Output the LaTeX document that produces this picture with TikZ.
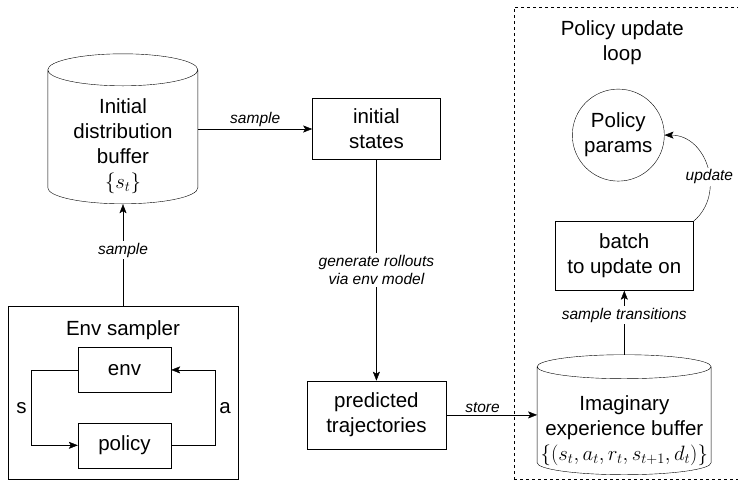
\documentclass[tikz,border=0pt]{standalone}
\usepackage{fontspec}
\setmainfont{Liberation Sans}
\usetikzlibrary{arrows.meta,positioning}
\tikzset{
    >={Stealth[length=9pt,width=7pt,inset=2pt]},
    font=\fontsize{20.5pt}{25pt}\selectfont,
    line width=0.9pt,
    plain box/.style={rectangle,draw,align=center,inner sep=0pt},
    buffer store/.style={rectangle,inner sep=0pt},
    params world/.style={circle,draw,align=center,inner sep=0pt,minimum size=92pt},
    loop frame/.style={rectangle,draw,dash pattern=on 3pt off 3pt,line width=0.8pt},
    plain text/.style={align=center,inner sep=0pt},
    edge label/.style={font=\fontsize{15.5pt}{18.5pt}\selectfont\itshape,align=center,inner sep=2pt},
    cut label/.style={edge label,fill=white}
}
% outline of a buffer node: node, x radius, y radius, wall height
\newcommand{\bufferwall}[4]{
    \draw ([yshift=-#3]#1.north west) -- ++(0,-#4)
        arc[start angle=180, end angle=360, x radius=#2, y radius=#3]
        -- ++(0,#4)
        arc[start angle=0, end angle=180, x radius=#2, y radius=#3]
        arc[start angle=180, end angle=360, x radius=#2, y radius=#3];
}
\begin{document}
\begin{tikzpicture}[x=1pt,y=1pt]
    \useasboundingbox (0,0) rectangle (738,-491);
    % left column
    \node[buffer store, minimum width=150pt, minimum height=150pt] (init) at (123,-129) {};
    \bufferwall{init}{75pt}{16pt}{118pt}
    \node[plain text] (inittext) at ([yshift=-17pt]init.center) {Initial\\distribution\\buffer\\$\{s_t\}$};
    \node[plain box, minimum width=230pt, minimum height=173pt] (sampler) [below = 102pt of init] {};
    \node[plain text] (samplertitle) [below = 14pt of sampler.north] {Env sampler};
    \node[plain box, minimum width=93pt, minimum height=45pt] (env) [below = 41pt of sampler.north, xshift=1.5pt] {env};
    \node[plain box, minimum width=93pt, minimum height=45pt] (policy) [below = 30pt of env] {policy};
    % middle column
    \node[plain box, minimum width=128pt, minimum height=61pt] (states) [right = 114pt of init] {initial\\states};
    \node[plain box, minimum width=139pt, minimum height=68pt] (pred) [below = 221pt of states] {predicted\\trajectories};
    % policy update loop
    \node[buffer store, minimum width=174pt, minimum height=120pt] (imag) [right = 91pt of pred] {};
    \bufferwall{imag}{87pt}{12pt}{96pt}
    \node[plain text] (imagtext) at ([yshift=-16pt]imag.center) {Imaginary\\experience buffer\\$\{(s_t,a_t,r_t,s_{t+1},d_t)\}$};
    \node[plain box, minimum width=138pt, minimum height=69pt] (batch) [above = 64pt of imag] {batch\\to update on};
    \node[params world] (params) [above = 40pt of batch, xshift=-6pt] {Policy\\params};
    \node[plain text] (looptitle) [above = 24pt of params, xshift=4pt] {Policy update\\loop};
    \node[loop frame, minimum width=228pt, minimum height=472pt] (loop) at (628,-243) {};
    \path[->]
        (init) edge node [above, edge label] {sample} (states)
        (sampler) edge node [cut label, pos=0.55] {sample} (init)
        (states) edge node [cut label] {generate rollouts\\via env model} (pred)
        (pred) edge node [above, edge label, pos=0.4] {store} (imag)
        (imag) edge node [cut label, pos=0.62] {sample transitions} (batch)
        (batch.north east) edge [out=40, in=0, looseness=1.2] node [cut label, pos=0.42] {update} (params)
        ;
    \draw[->] (env.west) -- ++(-47pt,0) |- (policy.west) node [pos=0.25, left, inner sep=4pt] {s};
    \draw[->] (policy.east) -- ++(44pt,0) |- (env.east) node [pos=0.25, right, inner sep=4pt] {a};
\end{tikzpicture}
\end{document}
